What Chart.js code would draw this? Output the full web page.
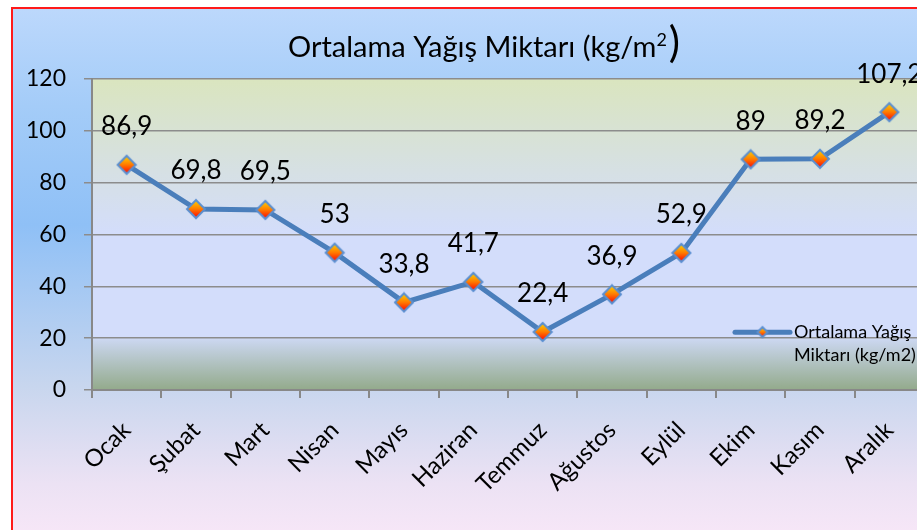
<!DOCTYPE html>
<html>
<head>
<meta charset="utf-8">
<script src="https://cdn.jsdelivr.net/npm/chart.js@4"></script>
<style>
  html, body { margin: 0; padding: 0; background: #fff; overflow: hidden; }
  #box {
    position: absolute; left: 11px; top: 7px;
    width: 930px; height: 540px;
    border: 2px solid #ff1a1a;
    background: linear-gradient(to bottom, #bcd8fc 0%, #a4ccf8 18%, #8fc0f6 40%, #c8d6ee 70%, #ece2f4 88%, #fae8f8 100%);
  }
  canvas { display: block; }
</style>
</head>
<body>
<div id="box"><canvas id="c" width="930" height="530"></canvas></div>
<script>
const months = ['Ocak', 'Şubat', 'Mart', 'Nisan', 'Mayıs', 'Haziran', 'Temmuz', 'Ağustos', 'Eylül', 'Ekim', 'Kasım', 'Aralık']
const rainfall = [86.9, 69.8, 69.5, 53, 33.8, 41.7, 22.4, 36.9, 52.9, 89, 89.2, 107.2]
const seriesName = 'Ortalama Yağış Miktarı (kg/m2)'
const titleParts = ['Ortalama Yağış Miktarı (kg/m', '2', ')']

const FONT = 'Lato, "Open Sans", sans-serif'

// diamond marker with a yellow-to-red fill
function makeDiamond(r) {
  const s = r * 2 + 4
  const cv = document.createElement('canvas')
  cv.width = s
  cv.height = s
  const g = cv.getContext('2d')
  const m = s / 2
  const grad = g.createLinearGradient(0, m - r, 0, m + r)
  grad.addColorStop(0, '#ffd400')
  grad.addColorStop(0.5, '#ff7a00')
  grad.addColorStop(1, '#ff0000')
  g.beginPath()
  g.moveTo(m, m - r)
  g.lineTo(m + r, m)
  g.lineTo(m, m + r)
  g.lineTo(m - r, m)
  g.closePath()
  g.fillStyle = grad
  g.fill()
  g.lineWidth = 2
  g.strokeStyle = '#5b8fd0'
  g.stroke()
  return cv
}

const marker = makeDiamond(9)
const smallMarker = makeDiamond(5)

const plotBackground = {
  id: 'plotBackground',
  beforeDraw(chart) {
    const { ctx, chartArea: a } = chart
    const grad = ctx.createLinearGradient(0, a.top, 0, a.bottom)
    grad.addColorStop(0, '#dae5bf')
    grad.addColorStop(0.3, '#d6e0e4')
    grad.addColorStop(0.5, '#d3ddfb')
    grad.addColorStop(0.83, '#d3ddfb')
    grad.addColorStop(0.84, '#cad6ee')
    grad.addColorStop(1, '#93aa8b')
    ctx.save()
    ctx.fillStyle = grad
    ctx.fillRect(a.left, a.top, a.right - a.left, a.bottom - a.top)
    ctx.restore()
  },
}

// title with superscript 2 and tall closing paren
const titlePlugin = {
  id: 'titlePlugin',
  afterDraw(chart) {
    const { ctx } = chart
    const fonts = ['29px ' + FONT, '18px ' + FONT, '42px ' + FONT]
    const shifts = [0, -11, 0]
    const widths = titleParts.map((t, i) => {
      ctx.font = fonts[i]
      return ctx.measureText(t).width
    })
    const total = widths.reduce((a, b) => a + b, 0)
    let x = chart.width / 2 + 5 - total / 2
    const base = 48
    ctx.save()
    ctx.fillStyle = '#000'
    ctx.textAlign = 'left'
    ctx.textBaseline = 'alphabetic'
    titleParts.forEach((t, i) => {
      ctx.font = fonts[i]
      ctx.fillText(t, x, base + shifts[i])
      x += widths[i] + (i === 1 ? 2 : 0)
    })
    ctx.restore()
  },
}

const valueLabels = {
  id: 'valueLabels',
  afterDatasetsDraw(chart) {
    const { ctx } = chart
    const meta = chart.getDatasetMeta(0)
    ctx.save()
    ctx.font = '26px ' + FONT
    ctx.fillStyle = '#000'
    ctx.textAlign = 'center'
    ctx.textBaseline = 'middle'
    meta.data.forEach((pt, i) => {
      ctx.fillText(String(rainfall[i]).replace('.', ','), pt.x, pt.y - 38)
    })
    ctx.restore()
  },
}

const sideLegend = {
  id: 'sideLegend',
  afterDraw(chart) {
    const { ctx } = chart
    const y = chart.scales.y.getPixelForValue(20) - 6
    const x0 = 722
    ctx.save()
    ctx.strokeStyle = '#4a7ebb'
    ctx.lineWidth = 5
    ctx.lineCap = 'round'
    ctx.beginPath()
    ctx.moveTo(x0, y)
    ctx.lineTo(x0 + 55, y)
    ctx.stroke()
    ctx.drawImage(smallMarker, x0 + 27.5 - smallMarker.width / 2, y - smallMarker.height / 2)
    ctx.font = '18px ' + FONT
    ctx.fillStyle = '#000'
    ctx.textAlign = 'left'
    ctx.textBaseline = 'middle'
    const words = seriesName.split(' ')
    ctx.fillText(words.slice(0, 2).join(' '), x0 + 59, y)
    ctx.fillText(words.slice(2).join(' '), x0 + 59, y + 23)
    ctx.restore()
  },
}

new Chart(document.getElementById('c'), {
  type: 'line',
  data: {
    labels: months,
    datasets: [{
      label: seriesName,
      data: rainfall,
      borderColor: '#4a7ebb',
      borderWidth: 5,
      tension: 0,
      pointStyle: marker,
      pointRadius: 10,
      pointHoverRadius: 10,
    }],
  },
  options: {
    responsive: false,
    animation: false,
    layout: { padding: { left: 0, right: 19, top: 70, bottom: 0 } },
    plugins: {
      legend: { display: false },
      tooltip: { enabled: false },
      title: { display: false },
    },
    scales: {
      x: {
        offset: true,
        grid: {
          offset: true,
          drawOnChartArea: false,
          tickLength: 8,
          color: '#888',
          lineWidth: 2,
        },
        border: { color: '#888', width: 2 },
        ticks: {
          minRotation: 45,
          maxRotation: 45,
          padding: 18,
          color: '#000',
          font: { family: FONT, size: 24 },
        },
        afterFit(scale) { scale.height = 149 },
      },
      y: {
        min: 0,
        max: 120,
        ticks: {
          stepSize: 20,
          padding: 18,
          color: '#000',
          font: { family: FONT, size: 23 },
        },
        grid: { color: '#8c8c8c', lineWidth: 1.5, tickLength: 8 },
        border: { color: '#888', width: 2 },
        afterFit(scale) { scale.width = 79 },
      },
    },
  },
  plugins: [plotBackground, titlePlugin, valueLabels, sideLegend],
})
</script>
</body>
</html>
